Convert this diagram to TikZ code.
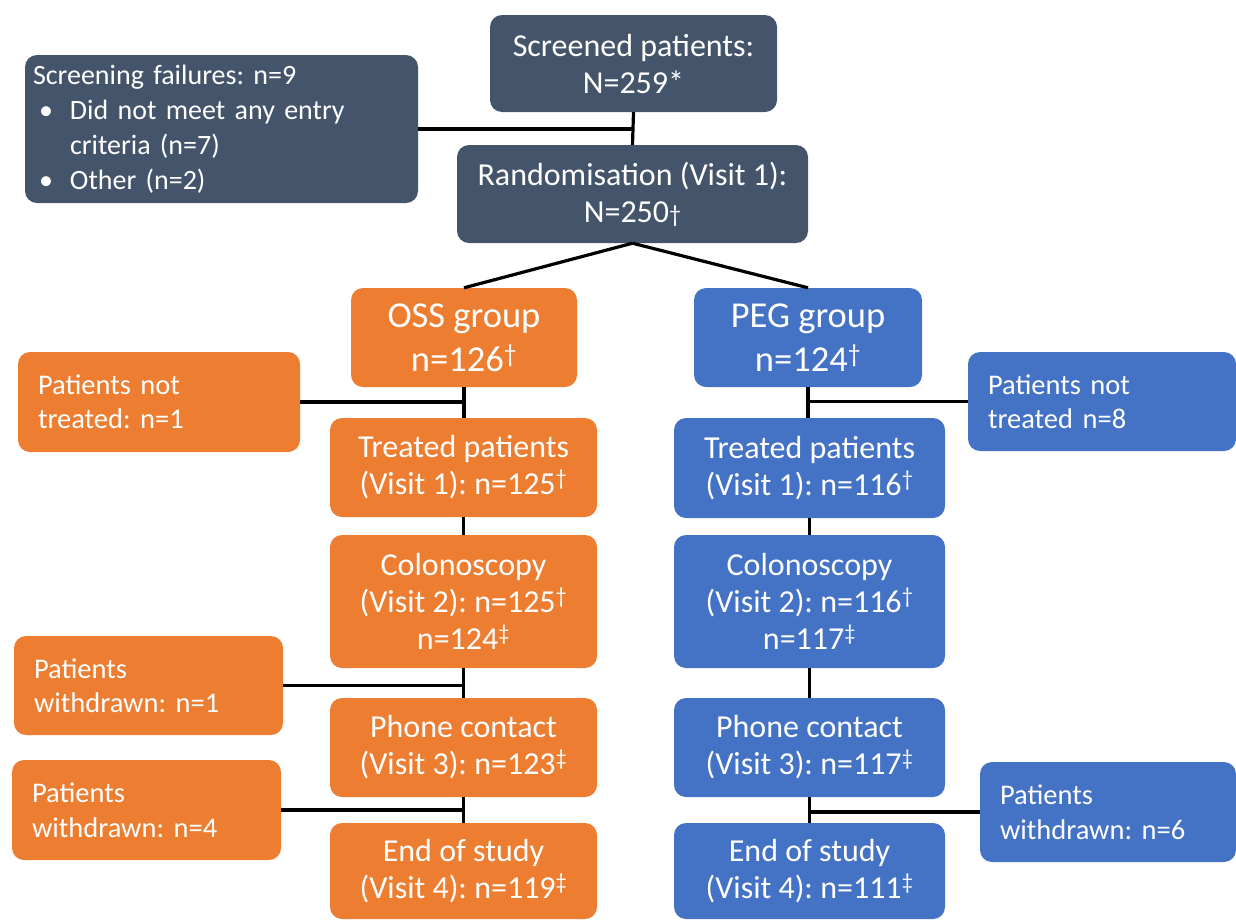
\documentclass[tikz,border=0pt]{standalone}
\usepackage{fontspec}
\setmainfont{Carlito}
\frenchspacing
\definecolor{dk}{HTML}{44546A}
\definecolor{orng}{HTML}{ED7D31}
\definecolor{blu}{HTML}{4472C4}
\newcommand{\dg}{\textsuperscript{\textdagger}}
\newcommand{\ddg}{\textsuperscript{\textdaggerdbl}}
\begin{document}
\begin{tikzpicture}[x=1pt,y=-1pt,
  base/.style={rounded corners=12pt,text=white,inner sep=0pt},
  mainbox/.style={base,align=center,font=\fontsize{32}{37}\selectfont\frenchspacing},
  bigbox/.style={base,align=center,font=\fontsize{36.5}{44}\selectfont\frenchspacing},
  sidebox/.style={base,align=left,inner xsep=20pt,font=\fontsize{28.5}{34.5}\selectfont\frenchspacing},
  conn/.style={line width=3.2pt,black}]
\useasboundingbox (0,0) rectangle (1236,919);
% top
\node[mainbox,fill=dk,minimum width=287pt,minimum height=97pt] (scr) at (633.5,63.5) {Screened patients:\\N=259*};
\node[sidebox,fill=dk,inner xsep=8pt,text width=377pt,minimum height=148pt,font=\fontsize{28}{35}\selectfont\frenchspacing] (fail) at (221.5,129)
  {Screening failures: n=9\\
   \makebox[37pt][l]{\hspace{6pt}\textbullet}Did not meet any entry\\
   \hspace*{37pt}criteria (n=7)\\
   \makebox[37pt][l]{\hspace{6pt}\textbullet}Other (n=2)};
\node[mainbox,fill=dk,minimum width=351pt,minimum height=98pt] (rand) at (632.5,194) {Randomisation (Visit 1):\\N=250{\fontsize{24}{24}\selectfont\textdagger}};
% OSS column
\node[bigbox,fill=orng,minimum width=226pt,minimum height=99pt] (oss) at (464,337.5) {OSS group\\n=126\dg};
\node[mainbox,fill=orng,minimum width=267pt,minimum height=99pt] (ot) at (463.5,467.5) {Treated patients\\(Visit 1): n=125\dg};
\node[mainbox,fill=orng,minimum width=267pt,minimum height=133pt] (oc) at (463.5,601.5) {Colonoscopy\\(Visit 2): n=125\dg\\n=124\ddg};
\node[mainbox,fill=orng,minimum width=267pt,minimum height=99pt] (op) at (463.5,747.5) {Phone contact\\(Visit 3): n=123\ddg};
\node[mainbox,fill=orng,minimum width=267pt,minimum height=96pt] (oe) at (463.5,871) {End of study\\(Visit 4): n=119\ddg};
\node[sidebox,fill=orng,text width=242pt,minimum height=100pt] (onot) at (159,402) {Patients not\\treated: n=1};
\node[sidebox,fill=orng,text width=229pt,minimum height=99pt] (ow1) at (148.5,685.5) {Patients\\withdrawn: n=1};
\node[sidebox,fill=orng,text width=229pt,minimum height=100pt] (ow4) at (146.5,810) {Patients\\withdrawn: n=4};
% PEG column
\node[bigbox,fill=blu,minimum width=228pt,minimum height=99pt] (peg) at (808,337.5) {PEG group\\n=124\dg};
\node[mainbox,fill=blu,minimum width=271pt,minimum height=100pt] (pt) at (809.5,468) {Treated patients\\(Visit 1): n=116\dg};
\node[mainbox,fill=blu,minimum width=271pt,minimum height=133pt] (pc) at (809.5,601.5) {Colonoscopy\\(Visit 2): n=116\dg\\n=117\ddg};
\node[mainbox,fill=blu,minimum width=271pt,minimum height=99pt] (pp) at (809.5,747.5) {Phone contact\\(Visit 3): n=117\ddg};
\node[mainbox,fill=blu,minimum width=271pt,minimum height=96pt] (pe) at (809.5,871) {End of study\\(Visit 4): n=111\ddg};
\node[sidebox,fill=blu,text width=228pt,minimum height=99pt] (pnot) at (1102,401.5) {Patients not\\treated n=8};
\node[sidebox,fill=blu,text width=216pt,minimum height=100pt] (pw6) at (1108,812) {Patients\\withdrawn: n=6};
% connectors
\draw[conn] (scr.south) -- (rand.north);
\draw[conn] (fail.east) -- (fail.east -| scr.south);
\draw[conn] (rand.south) -- (oss.north);
\draw[conn] (rand.south) -- (peg.north);
\draw[conn] (oss.south) -- (oss.south |- ot.north);
\draw[conn] (ot.south) -- (ot.south |- oc.north);
\draw[conn] (oc.south) -- (oc.south |- op.north);
\draw[conn] (op.south) -- (op.south |- oe.north);
\draw[conn] (onot.east) -- (onot.east -| oss.south);
\draw[conn] (ow1.east) -- (ow1.east -| oc.south);
\draw[conn] (ow4.east) -- (ow4.east -| op.south);
\draw[conn] (peg.south) -- (peg.south |- pt.north);
\draw[conn] (pt.south) -- (pt.south |- pc.north);
\draw[conn] (pc.south) -- (pc.south |- pp.north);
\draw[conn] (pp.south) -- (pp.south |- pe.north);
\draw[conn] (pnot.west) -- (pnot.west -| peg.south);
\draw[conn] (pw6.west) -- (pw6.west -| pp.south);
\end{tikzpicture}
\end{document}
